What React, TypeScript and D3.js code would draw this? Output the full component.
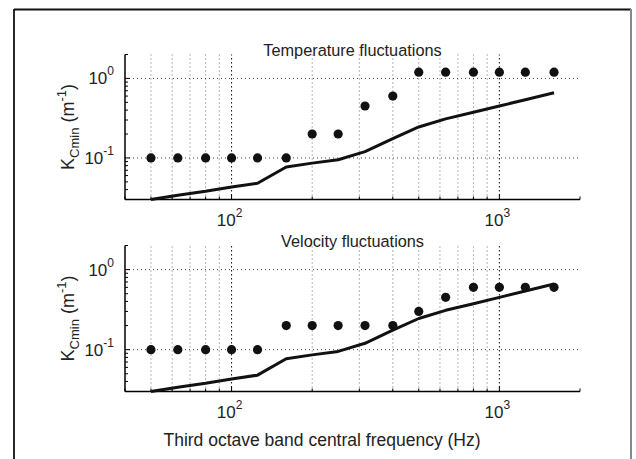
import React from 'react';
import * as d3 from 'd3';

const freqs = [50, 63, 80, 100, 125, 160, 200, 250, 315, 400, 500, 630, 800, 1000, 1250, 1600];
const tempPoints = [0.1, 0.1, 0.1, 0.1, 0.1, 0.1, 0.2, 0.2, 0.45, 0.6, 1.2, 1.2, 1.2, 1.2, 1.2, 1.2];
const velPoints = [0.1, 0.1, 0.1, 0.1, 0.1, 0.2, 0.2, 0.2, 0.2, 0.2, 0.3, 0.45, 0.6, 0.6, 0.6, 0.6];
const lineValues = [0.03, 0.034, 0.038, 0.043, 0.048, 0.077, 0.086, 0.095, 0.12, 0.175, 0.245, 0.31, 0.375, 0.45, 0.54, 0.66];
const titles = ['Temperature fluctuations', 'Velocity fluctuations'];
const xMajor = [100, 1000];
const xMajorExp = ['2', '3'];
const xMinor = [40, 50, 60, 70, 80, 90, 200, 300, 400, 500, 600, 700, 800, 900, 2000];
const yMajor = [0.1, 1];
const yMajorExp = ['-1', '0'];
const yMinor = [0.03, 0.04, 0.05, 0.06, 0.07, 0.08, 0.09, 0.2, 0.3, 0.4, 0.5, 0.6, 0.7, 0.8, 0.9, 2];
const xLabel = 'Third octave band central frequency (Hz)';

const FONT = 'Liberation Sans, Arial, Helvetica, sans-serif';
const X0 = 125;
const X1 = 580;

function Panel({ top, bottom, title, points, showXLabel }: { top: number; bottom: number; title: string; points: number[]; showXLabel: boolean }) {
  const x = d3.scaleLog().domain([40, 2000]).range([X0, X1]);
  const y = d3.scaleLog().domain([0.03, 2]).range([bottom, top]);
  const line = d3
    .line<number>()
    .x((_, i) => x(freqs[i]))
    .y((d) => y(d));
  const mid = (top + bottom) / 2;
  return (
    <g>
      {xMinor
        .filter((v) => v > 40 && v < 2000)
        .map((v) => (
          <line key={'gx' + v} x1={x(v)} x2={x(v)} y1={bottom} y2={top} stroke="#6e6e6e" strokeWidth={1} strokeDasharray="1,3" />
        ))}
      {xMajor.map((v) => (
        <line key={'gX' + v} x1={x(v)} x2={x(v)} y1={bottom} y2={top} stroke="#111" strokeWidth={1} strokeDasharray="1.5,2.5" />
      ))}
      {yMajor.map((v) => (
        <line key={'gY' + v} x1={X0} x2={X1} y1={y(v)} y2={y(v)} stroke="#444" strokeWidth={1} strokeDasharray="1,3" />
      ))}
      {yMinor.map((v) => (
        <line key={'ty' + v} x1={X0} x2={X0 + 3} y1={y(v)} y2={y(v)} stroke="#000" strokeWidth={1} />
      ))}
      {yMajor.map((v) => (
        <line key={'tY' + v} x1={X0} x2={X0 + 5} y1={y(v)} y2={y(v)} stroke="#000" strokeWidth={1} />
      ))}
      {xMinor.map((v) => (
        <line key={'tx' + v} x1={x(v)} x2={x(v)} y1={bottom} y2={bottom - 3} stroke="#000" strokeWidth={1} />
      ))}
      {xMajor.map((v) => (
        <line key={'tX' + v} x1={x(v)} x2={x(v)} y1={bottom} y2={bottom - 5} stroke="#000" strokeWidth={1} />
      ))}
      <line x1={X0} x2={X0} y1={top} y2={bottom} stroke="#000" strokeWidth={1.5} />
      <line x1={X0} x2={X1} y1={bottom} y2={bottom} stroke="#000" strokeWidth={1.5} />
      <path d={line(lineValues) || ''} fill="none" stroke="#111" strokeWidth={3} strokeLinejoin="round" />
      {points.map((v, i) => (
        <circle key={'p' + i} cx={x(freqs[i])} cy={y(v)} r={4.6} fill="#111" />
      ))}
      {yMajor.map((v, i) => (
        <text key={'ly' + v} x={X0 - 11} y={y(v) + 6} textAnchor="end" fontFamily={FONT} fontSize={17} fill="#222">
          10
          <tspan fontSize={12} dy={-9}>{yMajorExp[i]}</tspan>
        </text>
      ))}
      {xMajor.map((v, i) => (
        <text key={'lx' + v} x={x(v) - 2} y={bottom + 26} textAnchor="middle" fontFamily={FONT} fontSize={17} fill="#222">
          10
          <tspan fontSize={12} dy={-9}>{xMajorExp[i]}</tspan>
        </text>
      ))}
      <text x={(X0 + X1) / 2} y={top + 1.5} textAnchor="middle" fontFamily={FONT} fontSize={16.3} fill="#222">
        {title}
      </text>
      <text transform={`translate(74,${mid}) rotate(-90)`} textAnchor="middle" fontFamily={FONT} fontSize={18} fill="#222">
        K
        <tspan fontSize={13} dy={5}>Cmin</tspan>
        <tspan dy={-5}> (m</tspan>
        <tspan fontSize={13} dy={-8}>-1</tspan>
        <tspan dy={8}>)</tspan>
      </text>
      {showXLabel && (
        <text x={322} y={bottom + 54} textAnchor="middle" fontFamily={FONT} fontSize={17.5} fill="#222">
          {xLabel}
        </text>
      )}
    </g>
  );
}

export default function App() {
  return (
    <svg width={636} height={459} style={{ position: 'absolute', left: 0, top: 0, background: '#fff' }}>
      <rect x={0} y={0} width={636} height={459} fill="#fff" />
      <line x1={14} x2={14} y1={9} y2={459} stroke="#111" strokeWidth={1.8} />
      <line x1={14} x2={631} y1={9.5} y2={9.5} stroke="#111" strokeWidth={1.8} />
      <line x1={631} x2={631} y1={9} y2={459} stroke="#888" strokeWidth={2} />
      <Panel top={54.5} bottom={199.5} title={titles[0]} points={tempPoints} showXLabel={false} />
      <Panel top={245.5} bottom={391.5} title={titles[1]} points={velPoints} showXLabel={true} />
    </svg>
  );
}
